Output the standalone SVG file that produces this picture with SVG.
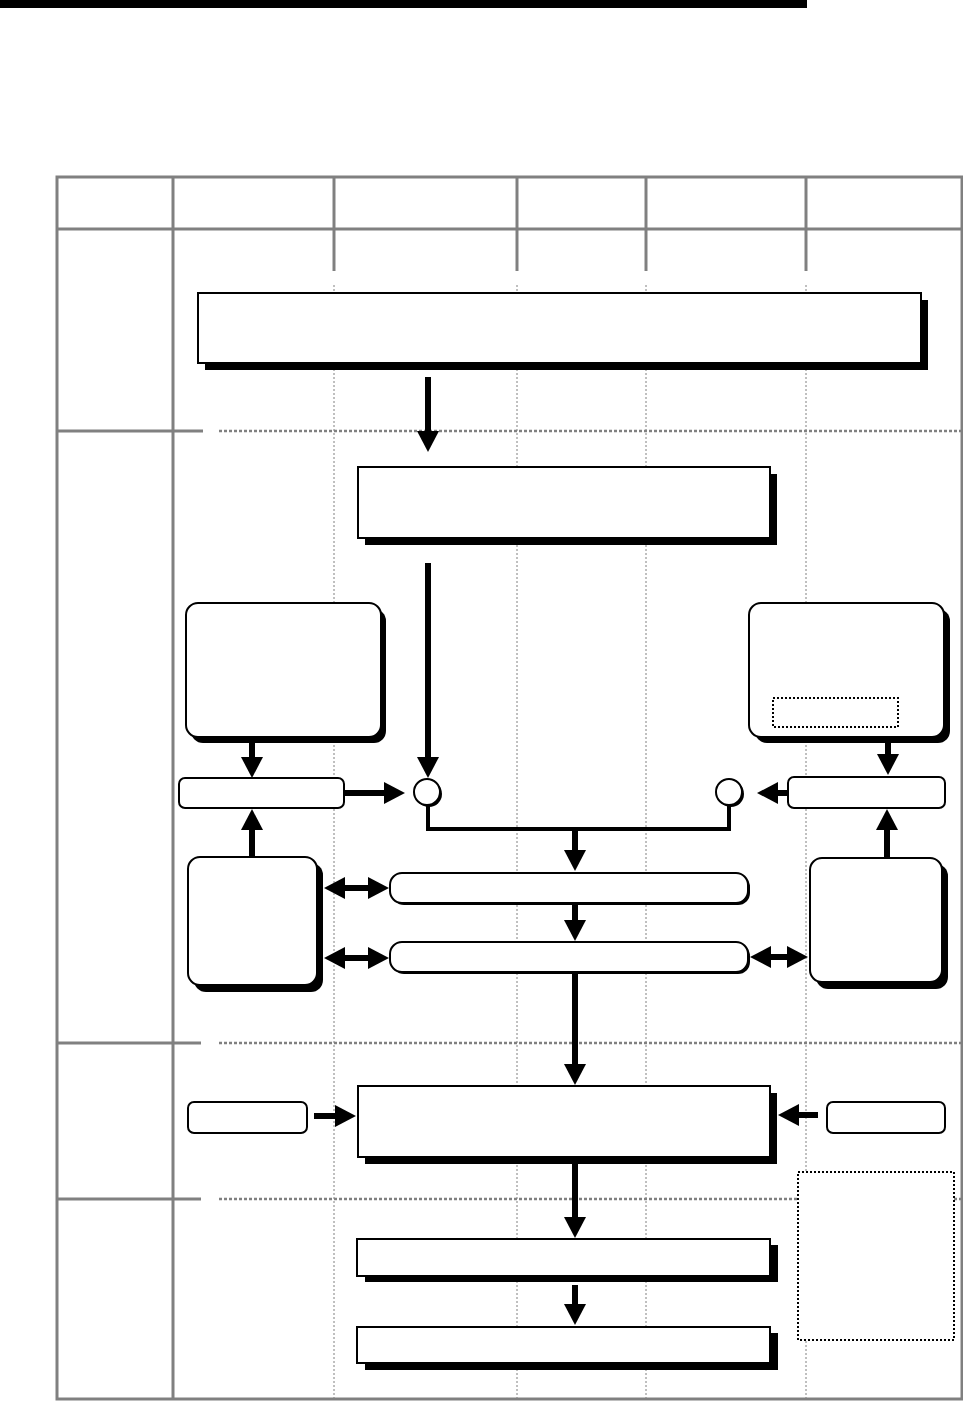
<svg xmlns="http://www.w3.org/2000/svg" width="963" height="1402" viewBox="0 0 963 1402">
<style>
.grid{stroke:#808080;stroke-width:3;fill:none}
.vdot{stroke:#808080;stroke-width:1;stroke-dasharray:2,2;fill:none}
.hdot{stroke:#808080;stroke-width:2.5;stroke-dasharray:3,2;fill:none}
.box{fill:#fff;stroke:#000;stroke-width:2}
.sh{fill:#000}
.arr{stroke:#000;stroke-width:6;fill:none;marker-end:url(#ah)}
.dbl{stroke:#000;stroke-width:6;fill:none;marker-end:url(#ah);marker-start:url(#ahs)}
.conn{stroke:#000;stroke-width:4;fill:none}
.dotbox{fill:#fff;stroke:#000;stroke-width:2;stroke-dasharray:2,2}
</style>
<defs>
<marker id="ah" markerUnits="userSpaceOnUse" markerWidth="22" markerHeight="22" refX="0" refY="11" orient="auto"><path d="M0,0 L21,11 L0,22 z" fill="#000"/></marker>
<marker id="ahs" markerUnits="userSpaceOnUse" markerWidth="22" markerHeight="22" refX="0" refY="11" orient="auto-start-reverse"><path d="M0,0 L21,11 L0,22 z" fill="#000"/></marker>
</defs>
<rect width="963" height="1402" fill="#fff"/>
<rect x="0" y="0" width="807" height="8" fill="#000"/>

<g id="table">
<rect x="57" y="177" width="905" height="1222" class="grid"/>
<line x1="57" y1="229" x2="962" y2="229" class="grid"/>
<line x1="173" y1="177" x2="173" y2="1399" class="grid"/>
<line x1="334" y1="177" x2="334" y2="271" class="grid"/>
<line x1="517" y1="177" x2="517" y2="271" class="grid"/>
<line x1="646" y1="177" x2="646" y2="271" class="grid"/>
<line x1="806" y1="177" x2="806" y2="271" class="grid"/>
<line x1="334" y1="285" x2="334" y2="1398" class="vdot"/>
<line x1="517" y1="285" x2="517" y2="1398" class="vdot"/>
<line x1="646" y1="285" x2="646" y2="1398" class="vdot"/>
<line x1="806" y1="285" x2="806" y2="1398" class="vdot"/>
<line x1="57" y1="431" x2="203" y2="431" class="grid"/>
<line x1="219" y1="431" x2="962" y2="431" class="hdot"/>
<line x1="57" y1="1043" x2="201" y2="1043" class="grid"/>
<line x1="219" y1="1043" x2="962" y2="1043" class="hdot"/>
<line x1="57" y1="1199" x2="201" y2="1199" class="grid"/>
<line x1="219" y1="1199" x2="962" y2="1199" class="hdot"/>
</g>

<g id="connectors">
<line x1="428" y1="377" x2="428" y2="431" class="arr"/>
<line x1="428" y1="563" x2="428" y2="757" class="arr"/>
<line x1="252" y1="737" x2="252" y2="757" class="arr"/>
<line x1="344" y1="793" x2="384" y2="793" class="arr"/>
<line x1="888" y1="737" x2="888" y2="754" class="arr"/>
<line x1="788" y1="793" x2="778" y2="793" class="arr"/>
<path d="M428,806 V829 H729 V806" class="conn"/>
<line x1="575" y1="829" x2="575" y2="850" class="arr"/>
<line x1="575" y1="903" x2="575" y2="920" class="arr"/>
<line x1="575" y1="973" x2="575" y2="1064" class="arr"/>
<line x1="252" y1="857" x2="252" y2="830" class="arr"/>
<line x1="887" y1="858" x2="887" y2="830" class="arr"/>
<line x1="345" y1="888" x2="368" y2="888" class="dbl"/>
<line x1="345" y1="958" x2="368" y2="958" class="dbl"/>
<line x1="771" y1="957" x2="787" y2="957" class="dbl"/>
<line x1="314" y1="1116" x2="335" y2="1116" class="arr"/>
<line x1="818" y1="1115" x2="799" y2="1115" class="arr"/>
<line x1="575" y1="1164" x2="575" y2="1217" class="arr"/>
<line x1="575" y1="1285" x2="575" y2="1304" class="arr"/>
</g>

<g id="n-top"><rect x="205" y="300" width="723" height="70" class="sh"/><rect x="198" y="293" width="723" height="70" class="box"/></g>
<g id="n-second"><rect x="365" y="474" width="412" height="71" class="sh"/><rect x="358" y="467" width="412" height="71" class="box"/></g>
<g id="n-left-a"><rect x="191" y="609" width="195" height="134" rx="12" class="sh"/><rect x="186" y="603" width="195" height="134" rx="12" class="box"/></g>
<g id="n-right-b"><rect x="755" y="609" width="195" height="134" rx="12" class="sh"/><rect x="749" y="603" width="195" height="134" rx="12" class="box"/><rect x="773" y="698" width="125" height="29" class="dotbox"/></g>
<g id="n-l1"><rect x="179" y="778" width="165" height="30" rx="6" class="box"/></g>
<g id="n-r1"><rect x="788" y="777" width="157" height="31" rx="6" class="box"/></g>
<g id="n-circle-l"><circle cx="429" cy="794" r="13" fill="#000"/><circle cx="427" cy="792" r="13" class="box"/></g>
<g id="n-circle-r"><circle cx="731" cy="794" r="13" fill="#000"/><circle cx="729" cy="792" r="13" class="box"/></g>
<g id="n-bus1"><rect x="392" y="875" width="358" height="30" rx="12" class="sh"/><rect x="390" y="873" width="358" height="30" rx="12" class="box"/></g>
<g id="n-bus2"><rect x="392" y="944" width="358" height="30" rx="12" class="sh"/><rect x="390" y="942" width="358" height="30" rx="12" class="box"/></g>
<g id="n-left-c"><rect x="194" y="863" width="129" height="129" rx="12" class="sh"/><rect x="188" y="857" width="129" height="128" rx="12" class="box"/></g>
<g id="n-right-d"><rect x="816" y="864" width="132" height="125" rx="12" class="sh"/><rect x="810" y="858" width="132" height="124" rx="12" class="box"/></g>
<g id="n-e"><rect x="365" y="1093" width="412" height="71" class="sh"/><rect x="358" y="1086" width="412" height="71" class="box"/></g>
<g id="n-e-left"><rect x="188" y="1102" width="119" height="31" rx="6" class="box"/></g>
<g id="n-e-right"><rect x="827" y="1102" width="118" height="31" rx="6" class="box"/></g>
<g id="n-dotted"><rect x="798" y="1172" width="156" height="168" class="dotbox"/></g>
<g id="n-f"><rect x="365" y="1245" width="413" height="37" class="sh"/><rect x="357" y="1239" width="413" height="37" class="box"/></g>
<g id="n-g"><rect x="365" y="1333" width="413" height="37" class="sh"/><rect x="357" y="1327" width="413" height="36" class="box"/></g>
</svg>
